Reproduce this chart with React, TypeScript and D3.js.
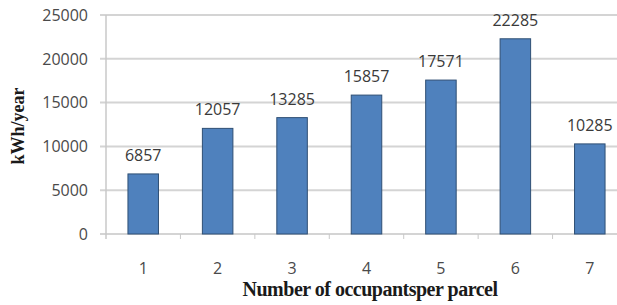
import React, { useRef, useEffect } from 'react';
import * as d3 from 'd3';

// data
const occupants = ['1', '2', '3', '4', '5', '6', '7'];
const energy = [6857, 12057, 13285, 15857, 17571, 22285, 10285];
const yTicks = [0, 5000, 10000, 15000, 20000, 25000];

const width = 617;
const height = 305;
const margin = { top: 15, right: -10, bottom: 71, left: 106 };

export default function App() {
  const ref = useRef<SVGSVGElement | null>(null);

  useEffect(() => {
    draw();
  }, []);

  function draw() {
    const svg = d3.select(ref.current);
    svg.selectAll('*').remove();
    const innerWidth = width - margin.left - margin.right;
    const innerHeight = height - margin.top - margin.bottom;

    const xScale = d3.scaleBand().domain(occupants).range([0, innerWidth]).paddingInner(0.59).paddingOuter(0.295);
    const yScale = d3.scaleLinear().domain([0, 25000]).range([innerHeight, 0]);

    const g = svg.append('g').attr('transform', `translate(${margin.left},${margin.top})`);

    // gridlines
    g.selectAll('.grid')
      .data(yTicks)
      .join('line')
      .attr('class', 'grid')
      .attr('x1', -6)
      .attr('x2', innerWidth)
      .attr('y1', (d) => yScale(d))
      .attr('y2', (d) => yScale(d))
      .attr('stroke', '#d4d4d4')
      .attr('stroke-width', 2);

    // y axis line
    g.append('line')
      .attr('x1', 0)
      .attr('x2', 0)
      .attr('y1', 0)
      .attr('y2', innerHeight + 5)
      .attr('stroke', '#c8c8c8')
      .attr('stroke-width', 1.5);

    // x ticks (between categories)
    const step = xScale.step();
    g.selectAll('.xtick')
      .data(occupants.slice(1))
      .join('line')
      .attr('class', 'xtick')
      .attr('x1', (d) => xScale(d)! - (step - xScale.bandwidth()) / 2)
      .attr('x2', (d) => xScale(d)! - (step - xScale.bandwidth()) / 2)
      .attr('y1', innerHeight)
      .attr('y2', innerHeight + 5)
      .attr('stroke', '#c8c8c8')
      .attr('stroke-width', 1);

    // y tick labels
    g.selectAll('.ylabel')
      .data(yTicks)
      .join('text')
      .attr('class', 'ylabel')
      .attr('x', -18)
      .attr('y', (d) => yScale(d))
      .attr('dy', '0.36em')
      .attr('text-anchor', 'end')
      .attr('font-family', 'Open Sans, sans-serif')
      .attr('font-size', 16)
      .attr('fill', '#4a4a4a')
      .text((d) => d);

    // bars
    g.selectAll('rect')
      .data(energy)
      .join('rect')
      .attr('x', (d, i) => xScale(occupants[i])!)
      .attr('y', (d) => yScale(d))
      .attr('width', xScale.bandwidth())
      .attr('height', (d) => yScale(0) - yScale(d))
      .attr('fill', '#4f81bd')
      .attr('stroke', '#2f4f74')
      .attr('stroke-width', 1);

    // value labels
    g.selectAll('.amount-text')
      .data(energy)
      .join('text')
      .attr('class', 'amount-text')
      .attr('x', (d, i) => xScale(occupants[i])! + xScale.bandwidth() / 2)
      .attr('y', (d) => yScale(d) - 13)
      .attr('text-anchor', 'middle')
      .attr('font-family', 'Open Sans, sans-serif')
      .attr('font-size', 16)
      .attr('fill', '#3a3a3a')
      .text((d) => d);

    // x tick labels
    g.selectAll('.xlabel')
      .data(occupants)
      .join('text')
      .attr('class', 'xlabel')
      .attr('x', (d) => xScale(d)! + xScale.bandwidth() / 2)
      .attr('y', innerHeight + 40)
      .attr('text-anchor', 'middle')
      .attr('font-family', 'Open Sans, sans-serif')
      .attr('font-size', 16)
      .attr('fill', '#4a4a4a')
      .text((d) => d);

    // axis titles
    svg.append('text')
      .attr('x', 370)
      .attr('y', 296)
      .attr('text-anchor', 'middle')
      .attr('font-family', 'Liberation Serif, serif')
      .attr('font-weight', 'bold')
      .attr('font-size', 20)
      .attr('letter-spacing', -0.5)
      .attr('fill', '#1a1a1a')
      .text('Number of occupantsper parcel');

    svg.append('text')
      .attr('transform', 'translate(24,126) rotate(-90)')
      .attr('text-anchor', 'middle')
      .attr('font-family', 'Liberation Serif, serif')
      .attr('font-weight', 'bold')
      .attr('font-size', 18)
      .attr('fill', '#1a1a1a')
      .text('kWh/year');
  }

  return (
    <div style={{ position: 'absolute', left: 0, top: 0 }}>
      <svg ref={ref} width={width} height={height} style={{ display: 'block', background: '#fff' }}></svg>
    </div>
  );
}
